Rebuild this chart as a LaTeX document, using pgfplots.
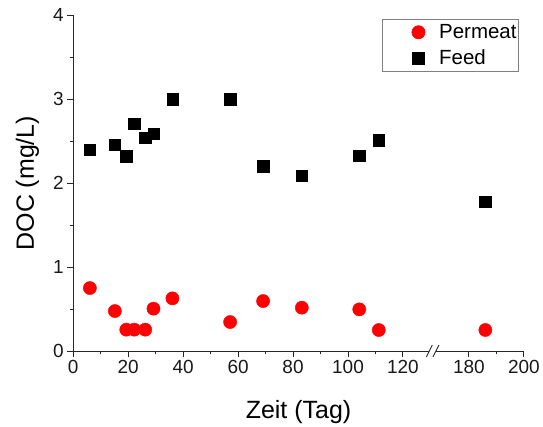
\documentclass[border=0pt]{standalone}
\usepackage{pgfplots}
\pgfplotsset{compat=1.18}
\usepackage{fontspec}
\setmainfont{Liberation Sans}
\begin{document}
\begin{tikzpicture}[x=1pt,y=1pt]
\begin{axis}[
  name=ax,
  scale only axis, width=451pt, height=336pt,
  xmin=0, xmax=164, ymin=0, ymax=4,
  axis x line*=bottom, axis y line*=left,
  axis line style={-, black!85, line width=0.9pt},
  x filter/.expression={x>130 ? x-36 : x},
  xtick={0,20,40,60,80,100,120,144,164},
  xticklabels={0,20,40,60,80,100,120,180,200},
  minor xtick={10,30,50,70,90,110,154},
  ytick={0,1,2,3,4},
  minor ytick={0.5,1.5,2.5,3.5},
  tick align=outside,
  major tick length=6pt, minor tick length=3.5pt,
  every tick/.style={black!85, line width=0.9pt},
  /pgf/number format/assume math mode=true,
  tick label style={font=\fontsize{19}{21}\selectfont, text=black!90},
  xlabel={Zeit (Tag)}, ylabel={DOC (mg/L)},
  label style={font=\fontsize{25}{28}\selectfont},
  xlabel style={at={([yshift=-61pt]rel axis cs:0.5,0)}, anchor=center},
  ylabel style={at={([xshift=-45.8pt]rel axis cs:0,0.5)}, anchor=center},
  clip=false,
  legend style={at={(rel axis cs:1,1)}, anchor=north east, xshift=-5pt, yshift=-3.7pt,
    draw=black!50, line width=0.6pt, font=\fontsize{20.5}{22}\selectfont,
    inner xsep=0pt, inner ysep=0pt, row sep=0pt},
  legend cell align=left,
  legend image code/.code={
    \path[draw=none, fill=none] (-34pt,-13pt) rectangle (21pt,13pt);
    \draw[#1] plot coordinates {(2.33pt,0pt)};
  },
  after end axis/.code={
    \fill[white] ([xshift=-3.5pt,yshift=-1.5pt]axis cs:130.8,0) rectangle ([xshift=3.5pt,yshift=1.5pt]axis cs:130.8,0);
    \draw[black!85, line width=0.9pt] ([xshift=-6.3pt,yshift=-6pt]axis cs:130.8,0) -- ++(6pt,12pt);
    \draw[black!85, line width=0.9pt] ([xshift=0.3pt,yshift=-6pt]axis cs:130.8,0) -- ++(6pt,12pt);
  },
]
\addplot[only marks, mark=*, mark size=6.6pt, draw=red, fill=red] coordinates {
(6.06,0.75) (15.15,0.476) (19.3,0.254) (22.2,0.254) (26.2,0.254) (29.2,0.504)
(36.1,0.627) (57.1,0.345) (69.1,0.595) (83.2,0.516) (104.1,0.496) (111.2,0.25) (186,0.25)
};
\addlegendentry{Permeat}
\addplot[only marks, mark=square*, mark size=5.7pt, draw=black, fill=black] coordinates {
(6.06,2.40) (15.15,2.456) (19.3,2.32) (22.2,2.71) (26.2,2.54) (29.2,2.59)
(36.1,3.0) (57.1,3.0) (69.1,2.20) (83.2,2.09) (104.1,2.325) (111.2,2.51) (186,1.78)
};
\addlegendentry{Feed}
\path (rel axis cs:0,0) ++(-73.3pt,-73.5pt) coordinate (bbl);
\path (rel axis cs:1,1) ++(18.7pt,15.3pt) coordinate (btr);
\end{axis}
\path (bbl) rectangle (btr);
\end{tikzpicture}
\end{document}
